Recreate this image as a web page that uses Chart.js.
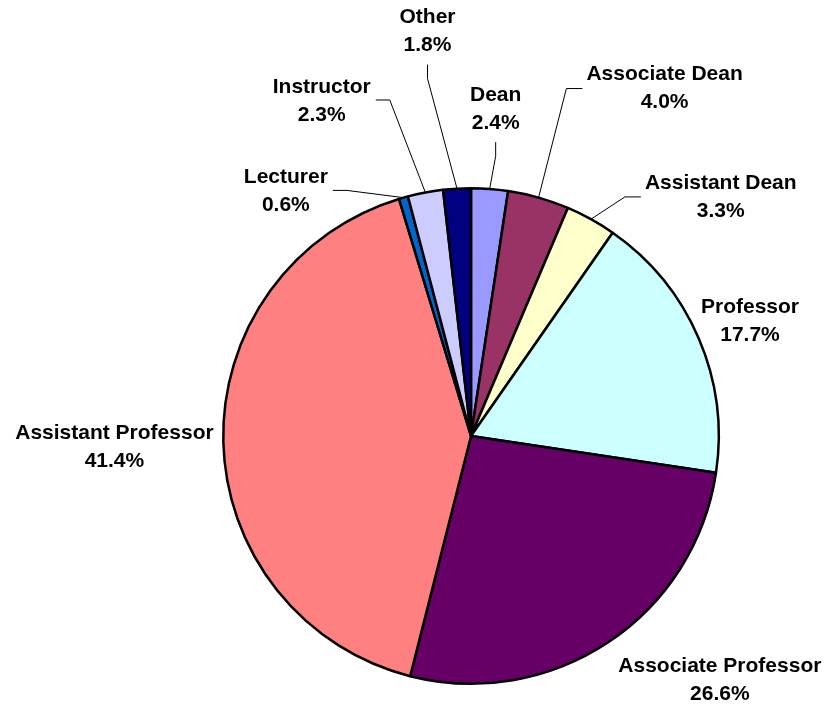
<!DOCTYPE html>
<html>
<head>
<meta charset="utf-8">
<script src="https://cdn.jsdelivr.net/npm/chart.js@4/dist/chart.umd.min.js"></script>
<style>
  html,body{margin:0;padding:0;background:#fff;}
  #wrap{width:829px;height:710px;position:relative;}
</style>
</head>
<body>
<div id="wrap"><canvas id="pie"></canvas></div>
<script>
/* ===== data (clockwise from 12 o'clock) ===== */
const CATEGORIES = ['Dean','Associate Dean','Assistant Dean','Professor','Associate Professor',
  'Assistant Professor','Lecturer','Instructor','Other'];
const PERCENTS = [2.4, 4.0, 3.3, 17.7, 26.6, 41.4, 0.6, 2.3, 1.8];
const COLORS = ['#9999FF','#993366','#FFFFCC','#CCFFFF','#660066','#FF8080','#0066CC','#CCCCFF','#000080'];

// label placement: angle shift (deg) from slice middle, distance past the rim, leader side
const LABEL_SHIFT = [0, 13.3, 17.3, 0.9, -11.9, -0.5, -21.3, -13.4, -2.9];
const LABEL_DIST  = [80, 150, 98, 54, 101, 109, 59, 119, 159];
const LEADER      = ['bottom','left','left',null,null,null,'right','right','bottom'];

const FONT = 'bold 21px "Liberation Sans", Arial, sans-serif';

/* ===== labels + leader lines ===== */
const outsideLabels = {
  id:'outsideLabels',
  afterDatasetsDraw(chart){
    const ctx = chart.ctx;
    const arcs = chart.getDatasetMeta(0).data;
    ctx.save();
    ctx.font = FONT; ctx.fillStyle = '#000';
    ctx.textAlign = 'center'; ctx.textBaseline = 'middle';
    arcs.forEach((a,i)=>{
      const p = a.getProps(['x','y','startAngle','endAngle','outerRadius'], true);
      const mid = (p.startAngle + p.endAngle)/2;
      const ang = mid + LABEL_SHIFT[i]*Math.PI/180;
      const rr = p.outerRadius + LABEL_DIST[i];
      const cx = p.x + Math.cos(ang)*rr, cy = p.y + Math.sin(ang)*rr;
      const l1 = CATEGORIES[i], l2 = PERCENTS[i].toFixed(1)+'%';
      ctx.fillText(l1, cx, cy-14);
      ctx.fillText(l2, cx, cy+14);
      const side = LEADER[i]; if(!side) return;
      const w = Math.max(ctx.measureText(l1).width, ctx.measureText(l2).width);
      const ax = p.x + Math.cos(mid)*p.outerRadius, ay = p.y + Math.sin(mid)*p.outerRadius;
      let s, e;
      if(side==='bottom'){ s=[cx,cy+33]; e=[cx,cy+47]; }
      else if(side==='left'){ s=[cx-w/2-4,cy]; e=[cx-w/2-20,cy]; }
      else { s=[cx+w/2+5,cy-1]; e=[cx+w/2+19,cy-1]; }
      ctx.beginPath(); ctx.strokeStyle='#000'; ctx.lineWidth=1;
      ctx.moveTo(s[0],s[1]); ctx.lineTo(e[0],e[1]); ctx.lineTo(ax,ay); ctx.stroke();
    });
    ctx.restore();
  }
};

new Chart(document.getElementById('pie'),{
  type:'pie',
  data:{ labels:CATEGORIES, datasets:[{ data:PERCENTS, backgroundColor:COLORS,
    borderColor:'#000', borderWidth:2.5 }]},
  options:{
    responsive:true, maintainAspectRatio:false, animation:false,
    layout:{ padding:{ top:187, bottom:25, left:222, right:109 } },
    plugins:{ legend:{display:false}, tooltip:{enabled:false} }
  },
  plugins:[outsideLabels]
});
</script>
</body>
</html>
